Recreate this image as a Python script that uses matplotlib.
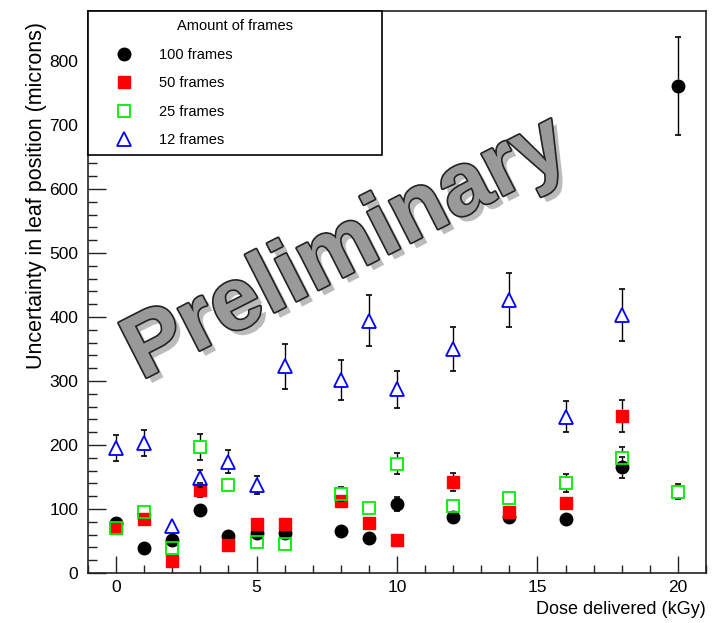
import numpy as np
import matplotlib
matplotlib.use("Agg")
import matplotlib.pyplot as plt
from matplotlib import patheffects as pe
from matplotlib.ticker import MultipleLocator

# -------------------------
# data
# -------------------------
dose = [0, 1, 2, 3, 4, 5, 6, 8, 9, 10, 12, 14, 16, 18, 20]
dose_short = [0, 1, 2, 3, 4, 5, 6, 8, 9, 10, 12, 14, 16, 18]

unc_100 = [78, 39, 52, 99, 58, 62, 62, 66, 54, 108, 88, 88, 84, 165, 761]
err_100 = [5, 5, 5, 6, 5, 5, 5, 5, 5, 11, 5, 5, 5, 16, 76]

unc_50 = [70, 85, 19, 130, 44, 77, 77, 113, 78, 52, 142, 96, 109, 246]
err_50 = [5, 5, 5, 11, 5, 5, 5, 10, 5, 5, 14, 6, 9, 25]

unc_25 = [70, 96, 39, 197, 137, 48, 45, 123, 101, 171, 105, 117, 141, 179, 127]
err_25 = [5, 5, 5, 20, 10, 5, 5, 11, 5, 17, 6, 9, 14, 18, 12]

unc_12 = [195, 203, 73, 148, 174, 138, 323, 302, 394, 287, 350, 426, 244, 403]
err_12 = [20, 20, 5, 13, 18, 14, 35, 31, 40, 29, 35, 42, 24, 40]

labels = ["100 frames", "50 frames", "25 frames", "12 frames"]

FONT = ["Liberation Sans", "DejaVu Sans"]

# -------------------------
# figure / axes
# -------------------------
fig = plt.figure(figsize=(7.12, 6.23), dpi=100)
ax = fig.add_axes([88 / 712, 50 / 623, 618 / 712, 562 / 623])
ax.set_xlim(-1, 21)
ax.set_ylim(0, 878)

for s in ax.spines.values():
    s.set_linewidth(1.2)
    s.set_color("#222222")

ax.xaxis.set_major_locator(MultipleLocator(5))
ax.xaxis.set_minor_locator(MultipleLocator(1))
ax.yaxis.set_major_locator(MultipleLocator(100))
ax.yaxis.set_minor_locator(MultipleLocator(20))
ax.tick_params(which="both", direction="in", top=False, right=False,
               color="#222222", width=1)
ax.tick_params(axis="y", which="major", length=13, pad=7)
ax.tick_params(axis="y", which="minor", length=6.5)
ax.tick_params(axis="x", which="major", length=12, pad=5)
ax.tick_params(axis="x", which="minor", length=6)
for lab in ax.get_xticklabels() + ax.get_yticklabels():
    lab.set_family(FONT)
    lab.set_fontsize(12.5)

# marker half height in data units -> error bars stop at the marker edge
p0 = ax.transData.transform((0, 0))
p1 = ax.transData.transform((0, 1))
gap = 6.5 / (p1[1] - p0[1])


def draw_series(x, y, e, **mk):
    x = np.asarray(x, float)
    y = np.asarray(y, float)
    e = np.asarray(e, float)
    show = e > gap
    xs, ys, es = x[show], y[show], e[show]
    ax.vlines(xs, ys + gap, ys + es, color="black", lw=1)
    ax.vlines(xs, ys - es, ys - gap, color="black", lw=1)
    ax.plot(xs, ys + es, ls="none", marker="_", ms=5, mec="black", mew=1.2)
    ax.plot(xs, ys - es, ls="none", marker="_", ms=5, mec="black", mew=1.2)
    return ax.plot(x, y, ls="none", **mk)[0]


h100 = draw_series(dose, unc_100, err_100, marker="o", ms=9,
                   mfc="black", mec="black", label=labels[0])
h50 = draw_series(dose_short, unc_50, err_50, marker="s", ms=8.5,
                  mfc="red", mec="red", label=labels[1])
h25 = draw_series(dose, unc_25, err_25, marker="s", ms=8.5,
                  mfc="none", mec="#00ee00", mew=1.3, label=labels[2])
h12 = draw_series(dose_short, unc_12, err_12, marker="^", ms=9.5,
                  mfc="none", mec="blue", mew=1.3, label=labels[3])

# -------------------------
# labels
# -------------------------
ax.set_xlabel("Dose delivered (kGy)", family=FONT, fontsize=13, loc="right")
ax.xaxis.set_label_coords(1.0, -0.05)
ax.set_ylabel("Uncertainty in leaf position (microns)", family=FONT,
              fontsize=15.5, loc="top")
ax.yaxis.set_label_coords(-0.066, 0.98)

# -------------------------
# legend
# -------------------------
leg = ax.legend(handles=[h100, h50, h25, h12], title="Amount of frames",
                loc="upper left", bbox_to_anchor=(0, 0, 294 / 618, 1),
                mode="expand", borderaxespad=0, fancybox=False,
                framealpha=1, edgecolor="black",
                prop={"family": FONT, "size": 10.5},
                title_fontproperties={"family": FONT, "size": 10.5},
                borderpad=0.55, handlelength=3.9, handletextpad=0.45,
                labelspacing=1.0)
leg.get_frame().set_linewidth(1.2)

# -------------------------
# watermark
# -------------------------
ax.text(8.2, 505, "Preliminary", rotation=27, rotation_mode="anchor",
        ha="center", va="center", fontsize=64, fontweight="bold",
        family=FONT, color="#999999", zorder=0.5,
        path_effects=[pe.SimplePatchShadow(offset=(4, -4), shadow_rgbFace="#555555", alpha=0.4),
                      pe.Stroke(linewidth=2.4, foreground="#222222"),
                      pe.Normal()])

fig.savefig("out.png", dpi=100)
